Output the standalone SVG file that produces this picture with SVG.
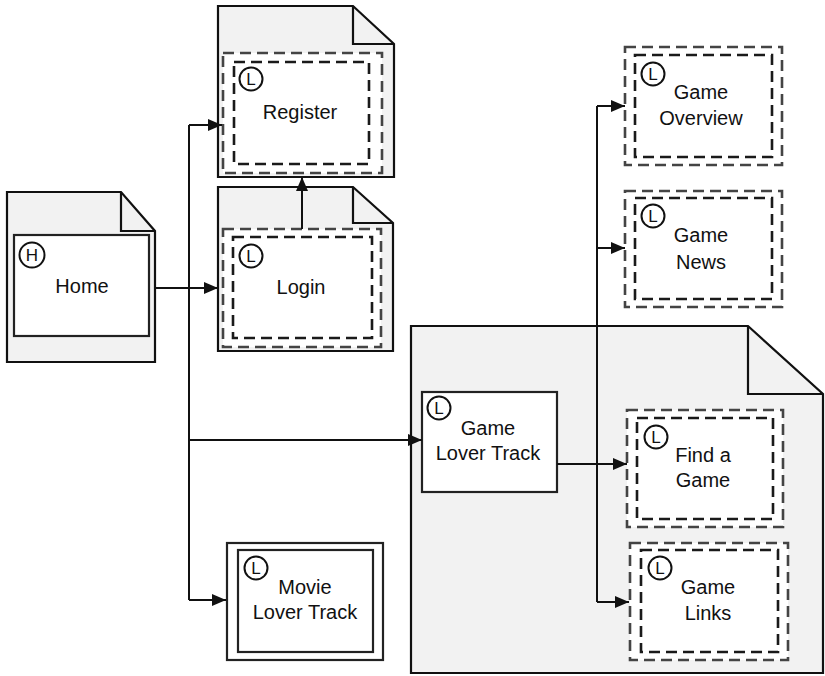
<svg xmlns="http://www.w3.org/2000/svg" width="825" height="676" viewBox="0 0 825 676">
<style>
.doc{fill:#f2f2f2;stroke:#111;stroke-width:2.2;stroke-linejoin:miter}
.fold{fill:none;stroke:#111;stroke-width:2.2}
.box{fill:#fff;stroke:#222;stroke-width:2.2}
.dout{fill:#fff;stroke:#444;stroke-width:2.6;stroke-dasharray:11 6}
.din{fill:#fff;stroke:#1a1a1a;stroke-width:2.6;stroke-dasharray:11 6}
.ic{fill:#fff;stroke:#111;stroke-width:2}
.lbl{font-family:"Liberation Sans",Arial,sans-serif;font-size:20px;fill:#111;text-anchor:middle}
.il{font-family:"Liberation Sans",Arial,sans-serif;font-size:17px;fill:#111;text-anchor:middle}
.con{fill:none;stroke:#111;stroke-width:2}
</style>
<defs>
<marker id="ah" markerUnits="userSpaceOnUse" markerWidth="14" markerHeight="12" refX="14" refY="6" orient="auto">
<path d="M0,0 L14,6 L0,12 Z" fill="#111"/>
</marker>
</defs>
<rect width="825" height="676" fill="#fff"/>
<g id="game-area">
<path class="doc" d="M411,326 L748,326 L823,394 L823,673 L411,673 Z"/>
<path class="fold" d="M748,326 V394 H823"/>
</g>
<g id="home">
<path class="doc" d="M7,192 L121,192 L155,231 L155,362 L7,362 Z"/>
<path class="fold" d="M121,192 V231 H155"/>
<rect class="box" x="14" y="235" width="135" height="101"/>
<circle class="ic" cx="32" cy="255" r="12.5"/>
<text class="il" x="32" y="261" font-size="18">H</text>
<text class="lbl" x="82" y="293">Home</text>
</g>
<g id="register">
<path class="doc" d="M218,6 L353,6 L394,44 L394,177 L218,177 Z"/>
<path class="fold" d="M353,6 V44 H394"/>
<rect class="dout" x="223" y="53" width="159" height="120"/>
<rect class="din" x="234" y="62" width="135" height="102"/>
<circle class="ic" cx="251" cy="79" r="11.5"/>
<text class="il" x="251" y="85">L</text>
<text class="lbl" x="300" y="119">Register</text>
</g>
<g id="login">
<path class="doc" d="M218,187 L353,187 L393,223 L393,351 L218,351 Z"/>
<path class="fold" d="M353,187 V223 H393"/>
<rect class="dout" x="223" y="229" width="158" height="118"/>
<rect class="din" x="233" y="237" width="139" height="101"/>
<circle class="ic" cx="251" cy="256" r="11.5"/>
<text class="il" x="251" y="262">L</text>
<text class="lbl" x="301" y="294">Login</text>
</g>
<g id="game-overview">
<rect class="dout" x="625" y="47" width="157" height="118"/>
<rect class="din" x="635" y="55" width="137" height="102"/>
<circle class="ic" cx="653" cy="74" r="11.5"/>
<text class="il" x="653" y="80">L</text>
<text class="lbl" x="701" y="99">Game</text>
<text class="lbl" x="701" y="125">Overview</text>
</g>
<g id="game-news">
<rect class="dout" x="625" y="191" width="157" height="116"/>
<rect class="din" x="635" y="198" width="137" height="101"/>
<circle class="ic" cx="653" cy="216" r="11.5"/>
<text class="il" x="653" y="222">L</text>
<text class="lbl" x="701" y="242">Game</text>
<text class="lbl" x="701" y="269">News</text>
</g>
<g id="game-lover-track">
<rect class="box" x="422" y="392" width="135" height="100"/>
<circle class="ic" cx="439" cy="408" r="11.5"/>
<text class="il" x="439" y="414">L</text>
<text class="lbl" x="488" y="435">Game</text>
<text class="lbl" x="488" y="460">Lover Track</text>
</g>
<g id="find-a-game">
<rect class="dout" x="627" y="410" width="156" height="117"/>
<rect class="din" x="637" y="418" width="136" height="101"/>
<circle class="ic" cx="656" cy="437" r="11.5"/>
<text class="il" x="656" y="443">L</text>
<text class="lbl" x="703" y="462">Find a</text>
<text class="lbl" x="703" y="487">Game</text>
</g>
<g id="game-links">
<rect class="dout" x="630" y="543" width="158" height="117"/>
<rect class="din" x="641" y="550" width="137" height="102"/>
<circle class="ic" cx="660" cy="568" r="11.5"/>
<text class="il" x="660" y="574">L</text>
<text class="lbl" x="708" y="594">Game</text>
<text class="lbl" x="708" y="620">Links</text>
</g>
<g id="movie-lover-track">
<rect class="box" x="227" y="543" width="156" height="117"/>
<rect class="box" x="238" y="550" width="135" height="102"/>
<circle class="ic" cx="256" cy="568" r="11.5"/>
<text class="il" x="256" y="574">L</text>
<text class="lbl" x="305" y="594">Movie</text>
<text class="lbl" x="305" y="619">Lover Track</text>
</g>
<g id="connectors">
<path class="con" d="M155,288 H218" marker-end="url(#ah)"/>
<path class="con" d="M189,125 V600"/>
<path class="con" d="M189,125 H222" marker-end="url(#ah)"/>
<path class="con" d="M189,440 H422" marker-end="url(#ah)"/>
<path class="con" d="M189,600 H226" marker-end="url(#ah)"/>
<path class="con" d="M302,229 V177" marker-end="url(#ah)"/>
<path class="con" d="M597,106 V602"/>
<path class="con" d="M597,106 H625" marker-end="url(#ah)"/>
<path class="con" d="M597,248 H625" marker-end="url(#ah)"/>
<path class="con" d="M597,602 H629" marker-end="url(#ah)"/>
<path class="con" d="M557,464 H627" marker-end="url(#ah)"/>
</g>
</svg>
